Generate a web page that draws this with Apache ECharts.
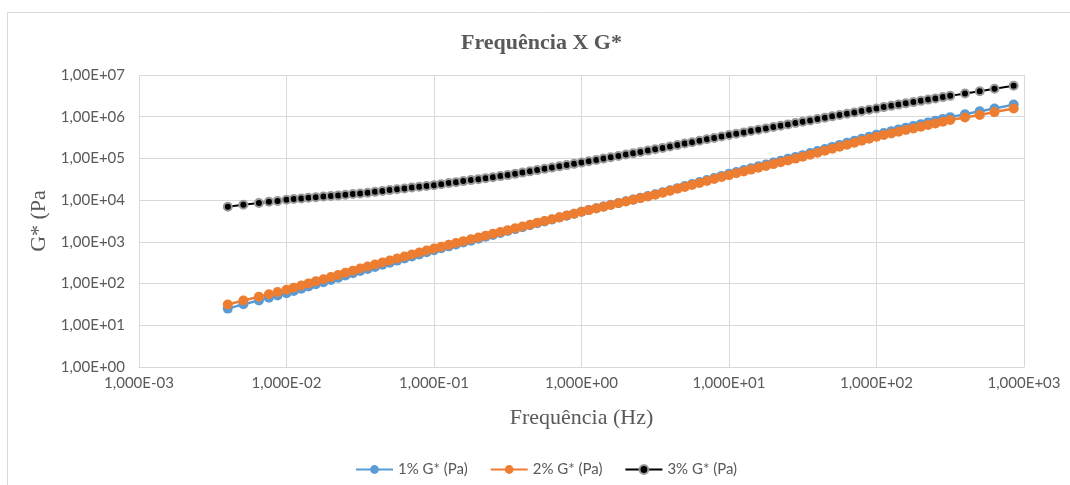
<!DOCTYPE html>
<html>
<head>
<meta charset="utf-8">
<title>Frequência X G*</title>
<script src="https://cdn.jsdelivr.net/npm/echarts@6/dist/echarts.min.js"></script>
<style>
  html, body { margin: 0; padding: 0; background: #fff; }
  #chart { width: 1070px; height: 485px; }
</style>
</head>
<body>
<div id="chart"></div>
<script>
// frequencia (Hz)
var freqHz = [0.0040, 0.0051, 0.0065, 0.0076, 0.0087,
  0.0100, 0.0112, 0.0126, 0.0141, 0.0158, 0.0178, 0.0200, 0.0224, 0.0251, 0.0282,
  0.0316, 0.0355, 0.0398, 0.0447, 0.0501, 0.0562, 0.0631, 0.0708, 0.0794, 0.0891,
  0.100, 0.112, 0.126, 0.141, 0.158, 0.178, 0.200, 0.224, 0.251, 0.282,
  0.316, 0.355, 0.398, 0.447, 0.501, 0.562, 0.631, 0.708, 0.794, 0.891,
  1.00, 1.12, 1.26, 1.41, 1.58, 1.78, 2.00, 2.24, 2.51, 2.82,
  3.16, 3.55, 3.98, 4.47, 5.01, 5.62, 6.31, 7.08, 7.94, 8.91,
  10.0, 11.2, 12.6, 14.1, 15.8, 17.8, 20.0, 22.4, 25.1, 28.2,
  31.6, 35.5, 39.8, 44.7, 50.1, 56.2, 63.1, 70.8, 79.4, 89.1,
  100, 112, 126, 141, 158, 178, 200, 224, 251, 282, 316,
  398, 501, 631, 851];

// G* (Pa) - 1%
var g1 = [25.1, 31.8, 39.3, 45.6, 51.9,
  58.9, 66.5, 75.2, 84.9, 95.9, 108, 122, 138, 156, 177,
  200, 224, 251, 282, 316, 355, 398, 447, 501, 562,
  631, 701, 780, 867, 964, 1070, 1190, 1320, 1470, 1640,
  1820, 2020, 2250, 2500, 2780, 3090, 3440, 3820, 4250, 4720,
  5250, 5780, 6370, 7020, 7730, 8510, 9380, 10300, 11400, 12500,
  13800, 15500, 17300, 19400, 21700, 24300, 27200, 30400, 34000, 38100,
  42700, 47300, 52500, 58200, 64600, 71600, 79400, 88100, 97700, 108000,
  120000, 135000, 151000, 169000, 189000, 211000, 237000, 265000, 296000, 332000,
  372000, 409000, 451000, 497000, 547000, 603000, 664000, 731000, 805000, 887000, 977000,
  1150000, 1350000, 1580000, 1950000];

// G* (Pa) - 2%
var g2 = [31.6, 39.4, 48.3, 55.6, 62.8,
  70.8, 79.6, 89.5, 101, 113, 127, 143, 161, 181, 204,
  229, 256, 286, 319, 356, 398, 445, 497, 555, 619,
  692, 766, 847, 938, 1040, 1150, 1270, 1410, 1560, 1720,
  1910, 2110, 2330, 2580, 2860, 3160, 3500, 3870, 4290, 4740,
  5250, 5770, 6340, 6970, 7660, 8410, 9250, 10200, 11200, 12300,
  13500, 15000, 16700, 18700, 20800, 23200, 25800, 28800, 32100, 35700,
  39800, 44100, 48800, 54000, 59700, 66100, 73100, 80900, 89500, 99100,
  110000, 122000, 137000, 153000, 171000, 191000, 213000, 238000, 265000, 296000,
  331000, 363000, 398000, 437000, 479000, 525000, 575000, 631000, 692000, 759000, 832000,
  955000, 1100000, 1290000, 1580000];

// G* (Pa) - 3%
var g3 = [6920, 7760, 8510, 9120, 9550,
  10200, 10600, 11000, 11400, 11700, 12200, 12600, 13000, 13500, 14000,
  14500, 15100, 15800, 16600, 17400, 18200, 19100, 20000, 20900, 21900,
  22900, 24200, 25600, 27000, 28600, 30200, 31900, 33700, 35600, 37700,
  39800, 42700, 45700, 49000, 52500, 56200, 60300, 64600, 69200, 74100,
  79400, 85500, 92000, 99100, 107000, 115000, 124000, 133000, 143000, 154000,
  166000, 179000, 194000, 210000, 227000, 245000, 265000, 287000, 310000, 336000,
  363000, 391000, 421000, 453000, 488000, 525000, 565000, 608000, 655000, 705000,
  759000, 817000, 879000, 946000, 1020000, 1100000, 1180000, 1270000, 1370000, 1470000,
  1580000, 1700000, 1820000, 1950000, 2090000, 2240000, 2400000, 2570000, 2750000, 2950000, 3160000,
  3600000, 4070000, 4680000, 5500000];

var seriesNames = ['1% G* (Pa)', '2% G* (Pa)', '3% G* (Pa)'];
var seriesColors = ['#5B9BD5', '#ED7D31', '#000000'];

// rotulos no formato do Excel: 1,000E-03 / 1,00E+07
function expLabel(v, zeros) {
  var e = Math.round(Math.log10(v));
  var s = e < 0 ? '-' : '+';
  var a = Math.abs(e);
  return '1,' + zeros + 'E' + s + (a < 10 ? '0' + a : a);
}

function pairs(ys) {
  var out = [];
  for (var i = 0; i < freqHz.length; i++) {
    out.push([freqHz[i], ys[i]]);
  }
  return out;
}

var gray = '#595959';
var gridColor = '#d9d9d9';

var option = {
  animation: false,
  backgroundColor: '#fff',
  graphic: [{
    type: 'rect',
    shape: { x: 7.5, y: 12.5, width: 1100, height: 520 },
    style: { fill: 'none', stroke: gridColor, lineWidth: 1 }
  }],
  title: {
    text: 'Frequência X G*',
    left: 456,
    top: 27,
    textStyle: {
      fontFamily: 'Liberation Serif',
      fontWeight: 'bold',
      fontSize: 22,
      color: gray
    }
  },
  legend: {
    data: seriesNames,
    top: 457,
    left: 350,
    itemWidth: 37,
    itemHeight: 11,
    itemGap: 22,
    textStyle: { fontFamily: 'Lato', fontSize: 15, color: gray }
  },
  grid: { left: 139, right: 46, top: 75, bottom: 118 },
  xAxis: {
    type: 'log',
    logBase: 10,
    min: 0.001,
    max: 1000,
    splitNumber: 6,
    name: 'Frequência (Hz)',
    nameLocation: 'middle',
    nameGap: 40,
    nameTextStyle: { fontFamily: 'Liberation Serif', fontSize: 22, color: gray },
    axisLine: { lineStyle: { color: gridColor } },
    axisTick: { show: false },
    axisLabel: {
      margin: 9,
      fontFamily: 'Lato',
      fontSize: 15,
      color: gray,
      showMinLabel: true,
      showMaxLabel: true,
      formatter: function (v) { return expLabel(v, '000'); }
    },
    splitLine: { show: true, lineStyle: { color: gridColor } }
  },
  yAxis: {
    type: 'log',
    logBase: 10,
    min: 1,
    max: 10000000,
    splitNumber: 7,
    name: 'G* (Pa',
    nameLocation: 'middle',
    nameGap: 86,
    nameTextStyle: { fontFamily: 'Liberation Serif', fontSize: 22, color: gray },
    axisLine: { show: false },
    axisTick: { show: false },
    axisLabel: {
      margin: 14,
      fontFamily: 'Lato',
      fontSize: 15,
      color: gray,
      formatter: function (v) { return expLabel(v, '00'); }
    },
    splitLine: { show: true, lineStyle: { color: gridColor } }
  },
  series: [
    {
      name: seriesNames[0],
      type: 'line',
      data: pairs(g1),
      symbol: 'circle',
      symbolSize: 10,
      lineStyle: { width: 2.5, color: seriesColors[0] },
      itemStyle: { color: seriesColors[0] }
    },
    {
      name: seriesNames[1],
      type: 'line',
      data: pairs(g2),
      symbol: 'circle',
      symbolSize: 10,
      lineStyle: { width: 2.5, color: seriesColors[1] },
      itemStyle: { color: seriesColors[1] }
    },
    {
      name: seriesNames[2],
      type: 'line',
      data: pairs(g3),
      symbol: 'circle',
      symbolSize: 8,
      lineStyle: { width: 2, color: seriesColors[2] },
      itemStyle: { color: seriesColors[2], borderColor: '#9a9a9a', borderWidth: 2 }
    }
  ]
};

var chart = echarts.init(document.getElementById('chart'));
chart.setOption(option);
</script>
</body>
</html>
